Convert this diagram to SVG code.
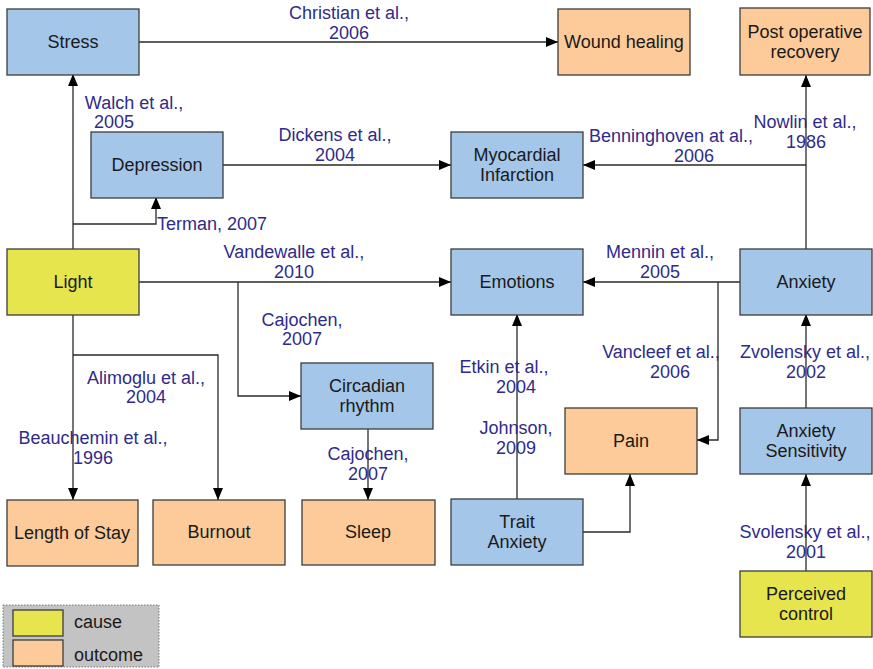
<svg xmlns="http://www.w3.org/2000/svg" width="873" height="669" viewBox="0 0 873 669">
  <style>
    .box { stroke: #3c3c3c; stroke-width: 1.3; }
    .blue { fill: #a4c6e8; }
    .yellow { fill: #e6e54e; }
    .orange { fill: #fccb99; }
    .nt { font-family: "Liberation Sans", Arial, sans-serif; font-size: 18px; fill: #1a1a1a; text-anchor: middle; }
    .lb { font-family: "Liberation Sans", Arial, sans-serif; font-size: 18px; fill: #2f2b8c; text-anchor: middle; }
    .ln { fill: none; stroke: #2a2a2a; stroke-width: 1.3; }
    .ar { marker-end: url(#tip); }
  </style>
  <defs>
    <marker id="tip" markerUnits="userSpaceOnUse" markerWidth="13" markerHeight="11" refX="12" refY="5" orient="auto">
      <path d="M0,0 L12,5 L0,10 z" fill="#000"/>
    </marker>
  </defs>
  <rect width="873" height="669" fill="#fff"/>

  <!-- connectors -->
  <g id="connectors">
    <path class="ln ar" d="M139,42 H558"/>
    <path class="ln ar" d="M73,249 V74"/>
    <path class="ln ar" d="M73,224 H156 V197"/>
    <path class="ln ar" d="M223,165 H451"/>
    <path class="ln ar" d="M806,249 V75"/>
    <path class="ln ar" d="M806,165 H583"/>
    <path class="ln ar" d="M139,282 H451"/>
    <path class="ln ar" d="M238,282 V396 H301"/>
    <path class="ln ar" d="M73,314 V500"/>
    <path class="ln ar" d="M73,355 H218 V500"/>
    <path class="ln ar" d="M368,428 V500"/>
    <path class="ln ar" d="M740,282 H583"/>
    <path class="ln ar" d="M718,282 V440 H697"/>
    <path class="ln ar" d="M517,499 V314"/>
    <path class="ln ar" d="M583,532 H630 V474"/>
    <path class="ln ar" d="M806,408 V314"/>
    <path class="ln ar" d="M806,571 V474"/>
  </g>

  <!-- connector labels -->
  <g id="labels">
    <text class="lb" x="349" y="19">Christian et al.,</text>
    <text class="lb" x="349" y="39">2006</text>
    <text class="lb" x="134" y="109">Walch et al.,</text>
    <text class="lb" x="114" y="128">2005</text>
    <text class="lb" x="335" y="141">Dickens et al.,</text>
    <text class="lb" x="335" y="161">2004</text>
    <text class="lb" x="671" y="142">Benninghoven at al.,</text>
    <text class="lb" x="694" y="162">2006</text>
    <text class="lb" x="805" y="128">Nowlin et al.,</text>
    <text class="lb" x="806" y="148">1986</text>
    <text class="lb" x="212" y="230">Terman, 2007</text>
    <text class="lb" x="294" y="258">Vandewalle et al.,</text>
    <text class="lb" x="294" y="278">2010</text>
    <text class="lb" x="660" y="258">Mennin et al.,</text>
    <text class="lb" x="660" y="278">2005</text>
    <text class="lb" x="302" y="326">Cajochen,</text>
    <text class="lb" x="302" y="345">2007</text>
    <text class="lb" x="146" y="384">Alimoglu et al.,</text>
    <text class="lb" x="146" y="403">2004</text>
    <text class="lb" x="504" y="373">Etkin et al.,</text>
    <text class="lb" x="516" y="393">2004</text>
    <text class="lb" x="661" y="358">Vancleef et al.,</text>
    <text class="lb" x="670" y="378">2006</text>
    <text class="lb" x="805" y="358">Zvolensky et al.,</text>
    <text class="lb" x="806" y="378">2002</text>
    <text class="lb" x="93" y="444">Beauchemin et al.,</text>
    <text class="lb" x="93" y="464">1996</text>
    <text class="lb" x="516" y="434">Johnson,</text>
    <text class="lb" x="516" y="454">2009</text>
    <text class="lb" x="368" y="460">Cajochen,</text>
    <text class="lb" x="368" y="480">2007</text>
    <text class="lb" x="805" y="538">Svolensky et al.,</text>
    <text class="lb" x="806" y="558">2001</text>
  </g>

  <!-- nodes -->
  <g id="stress"><rect class="box blue" x="7" y="9" width="132" height="66"/><text class="nt" x="73" y="48">Stress</text></g>
  <g id="wound-healing"><rect class="box orange" x="558" y="9" width="132" height="66"/><text class="nt" x="624" y="48">Wound healing</text></g>
  <g id="post-operative-recovery"><rect class="box orange" x="740" y="8" width="130" height="67"/><text class="nt" x="805" y="38">Post operative</text><text class="nt" x="805" y="58">recovery</text></g>
  <g id="depression"><rect class="box blue" x="91" y="132" width="132" height="66"/><text class="nt" x="157" y="171">Depression</text></g>
  <g id="myocardial-infarction"><rect class="box blue" x="451" y="132" width="132" height="66"/><text class="nt" x="517" y="161">Myocardial</text><text class="nt" x="517" y="181">Infarction</text></g>
  <g id="light"><rect class="box yellow" x="7" y="249" width="132" height="66"/><text class="nt" x="73" y="288">Light</text></g>
  <g id="emotions"><rect class="box blue" x="451" y="249" width="132" height="66"/><text class="nt" x="517" y="288">Emotions</text></g>
  <g id="anxiety"><rect class="box blue" x="740" y="249" width="132" height="66"/><text class="nt" x="806" y="288">Anxiety</text></g>
  <g id="circadian-rhythm"><rect class="box blue" x="301" y="363" width="132" height="66"/><text class="nt" x="367" y="392">Circadian</text><text class="nt" x="367" y="412">rhythm</text></g>
  <g id="pain"><rect class="box orange" x="565" y="408" width="132" height="66"/><text class="nt" x="631" y="447">Pain</text></g>
  <g id="anxiety-sensitivity"><rect class="box blue" x="740" y="408" width="132" height="66"/><text class="nt" x="806" y="437">Anxiety</text><text class="nt" x="806" y="457">Sensitivity</text></g>
  <g id="length-of-stay"><rect class="box orange" x="7" y="500" width="131" height="66"/><text class="nt" x="72" y="539">Length of Stay</text></g>
  <g id="burnout"><rect class="box orange" x="153" y="500" width="132" height="65"/><text class="nt" x="219" y="538">Burnout</text></g>
  <g id="sleep"><rect class="box orange" x="302" y="500" width="133" height="65"/><text class="nt" x="368" y="538">Sleep</text></g>
  <g id="trait-anxiety"><rect class="box blue" x="451" y="499" width="132" height="66"/><text class="nt" x="517" y="528">Trait</text><text class="nt" x="517" y="548">Anxiety</text></g>
  <g id="perceived-control"><rect class="box yellow" x="740" y="571" width="132" height="66"/><text class="nt" x="806" y="600">Perceived</text><text class="nt" x="806" y="620">control</text></g>

  <!-- legend -->
  <g id="legend">
    <rect x="3" y="605" width="156" height="62" fill="#c3c3c3" stroke="#7a7a7a" stroke-width="1" stroke-dasharray="1.5,1.5"/>
    <rect class="box yellow" x="13" y="610" width="50" height="26"/>
    <rect class="box orange" x="13" y="640" width="50" height="26"/>
    <text class="nt" x="74" y="628" style="text-anchor:start">cause</text>
    <text class="nt" x="74" y="661" style="text-anchor:start">outcome</text>
  </g>
</svg>
